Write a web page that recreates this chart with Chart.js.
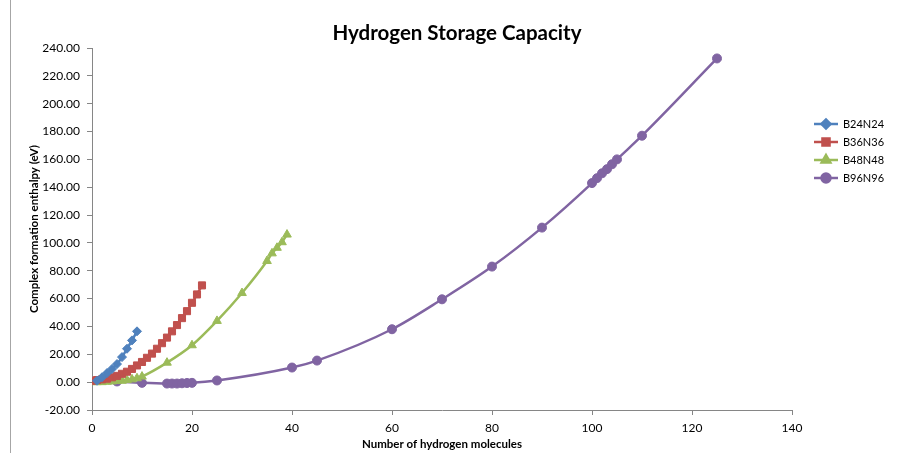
<!DOCTYPE html>
<html>
<head>
<meta charset="utf-8">
<script src="https://cdn.jsdelivr.net/npm/chart.js@4.4.1/dist/chart.umd.min.js"></script>
<style>
  html, body { margin: 0; padding: 0; background: #fff; }
  #wrap { width: 899px; height: 453px; position: relative; }
</style>
</head>
<body>
<div id="wrap"><canvas id="myChart" width="899" height="453"></canvas></div>
<script>
// values
const b24x = [1, 2, 3, 4, 5, 6, 7, 8, 9];
const b24y = [1, 3.5, 6.5, 9.5, 13, 18, 24, 30, 36.5];

const b36x = [0, 1, 2, 3, 4, 5, 6, 7, 8, 9, 10, 11, 12, 13, 14, 15, 16, 17, 18, 19, 20, 21, 22];
const b36y = [1, 1.5, 2, 2.5, 3.5, 4.5, 6, 7.5, 9.5, 12, 14.5, 17.5, 20.5, 24, 28, 32, 36.5, 41, 46, 51, 57, 63, 69.5];

const b48x = [0, 1, 2, 3, 4, 5, 6, 7, 8, 9, 10, 15, 20, 25, 30, 35, 36, 37, 38, 39];
const b48y = [0, 0, 0, 0.3, 0.5, 0.8, 1, 1.5, 2, 2.8, 4, 14, 26.5, 44, 64, 87, 92.5, 96.5, 100.5, 106];

const b96x = [5, 10, 15, 16, 17, 18, 19, 20, 25, 40, 45, 60, 70, 80, 90, 100, 101, 102, 103, 104, 105, 110, 125];
const b96y = [0.5, -0.5, -1, -1, -1, -0.8, -0.6, -0.5, 1.2, 10.5, 15.5, 38, 59.5, 83, 111, 143, 146.5, 150, 153, 156.5, 160, 177, 232.5];

const seriesNames = ['B24N24', 'B36N36', 'B48N48', 'B96N96'];
const seriesColors = ['#4F81BD', '#C0504D', '#9BBB59', '#8064A2'];
const seriesMarkers = ['rectRot', 'rect', 'triangle', 'circle'];

const xTicks = [0, 20, 40, 60, 80, 100, 120, 140];
const yTicks = [-20, 0, 20, 40, 60, 80, 100, 120, 140, 160, 180, 200, 220, 240];

const FONT = 'Lato, "Open Sans", sans-serif';

function pts(xs, ys) {
  return xs.map((x, i) => ({ x: x, y: ys[i] }));
}

const allX = [b24x, b36x, b48x, b96x];
const allY = [b24y, b36y, b48y, b96y];
const markerSize = [4.5, 5, 5, 4.5];

const datasets = seriesNames.map((name, i) => ({
  label: name,
  data: pts(allX[i], allY[i]),
  showLine: true,
  borderColor: seriesColors[i],
  backgroundColor: seriesColors[i],
  pointBackgroundColor: seriesColors[i],
  pointBorderColor: seriesColors[i],
  pointStyle: seriesMarkers[i],
  pointRadius: markerSize[i],
  pointBorderWidth: 1,
  borderWidth: 2.5,
  cubicInterpolationMode: 'monotone'
}));

// title, legend and the left frame line
const extras = {
  id: 'extras',
  afterDraw(chart) {
    const c = chart.ctx;
    c.save();
    c.strokeStyle = '#a6a6a6';
    c.lineWidth = 1;
    c.beginPath();
    c.moveTo(10.5, 0);
    c.lineTo(10.5, 453);
    c.stroke();

    c.fillStyle = '#000';
    c.font = 'bold 20.5px ' + FONT;
    c.textAlign = 'center';
    c.textBaseline = 'middle';
    c.fillText('Hydrogen Storage Capacity', 457, 33);

    chart.data.datasets.forEach((ds, i) => {
      const y = 124 + i * 18;
      c.strokeStyle = ds.borderColor;
      c.lineWidth = 2.5;
      c.beginPath();
      c.moveTo(814, y);
      c.lineTo(838, y);
      c.stroke();
      c.fillStyle = ds.borderColor;
      Chart.helpers.drawPoint(c, { pointStyle: ds.pointStyle, radius: ds.pointRadius, rotation: 0, borderWidth: 1 }, 826, y);
      c.fillStyle = '#000';
      c.font = '11px ' + FONT;
      c.textAlign = 'left';
      c.fillText(ds.label, 843, y);
    });
    c.restore();
  }
};

new Chart(document.getElementById('myChart'), {
  type: 'scatter',
  data: { datasets: datasets },
  plugins: [extras],
  options: {
    responsive: false,
    animation: false,
    layout: { padding: { top: 48, right: 107, left: 22, bottom: 0 } },
    plugins: {
      legend: { display: false },
      title: { display: false },
      tooltip: { enabled: false }
    },
    scales: {
      x: {
        type: 'linear',
        min: 0,
        max: 140,
        afterBuildTicks: s => { s.ticks = xTicks.map(v => ({ value: v })); },
        afterFit: s => { s.height = 43; },
        grid: { drawOnChartArea: false, tickLength: 5, color: '#868686' },
        border: { color: '#868686' },
        ticks: { padding: 6, color: '#000', font: { family: FONT, size: 12 } },
        title: {
          display: true,
          text: 'Number of hydrogen molecules',
          color: '#000',
          font: { family: FONT, size: 11.5, weight: 'bold' },
          padding: { top: 2, bottom: 2 }
        }
      },
      y: {
        type: 'linear',
        min: -20,
        max: 240,
        afterBuildTicks: s => { s.ticks = yTicks.map(v => ({ value: v })); },
        afterFit: s => { s.width = 70; },
        grid: { drawOnChartArea: false, tickLength: 5, color: '#868686' },
        border: { color: '#868686' },
        ticks: {
          padding: 7,
          color: '#000',
          font: { family: FONT, size: 12 },
          callback: v => v.toFixed(2)
        },
        title: {
          display: true,
          text: 'Complex formation enthalpy (eV)',
          color: '#000',
          font: { family: FONT, size: 11.5, weight: 'bold' },
          padding: { top: 5, bottom: 4 }
        }
      }
    }
  }
});
</script>
</body>
</html>
